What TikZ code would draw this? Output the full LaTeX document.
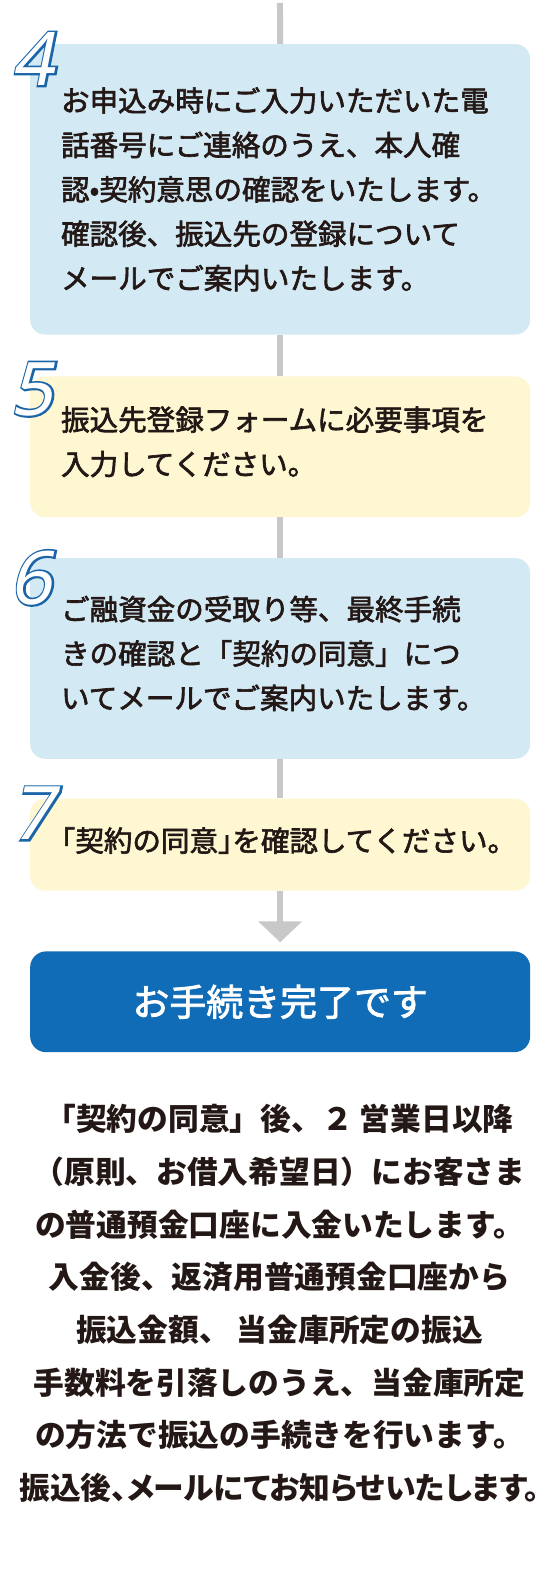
\documentclass[tikz,border=0pt]{standalone}
\usepackage{fontspec}
\setmainfont{Noto Sans CJK JP}
\newfontfamily\medfont[FakeBold=2.2]{Noto Sans CJK JP}
\newfontfamily\numfont[FakeSlant=0.2]{Noto Sans}
\newfontfamily\numedge[FakeSlant=0.2,FakeBold=5]{Noto Sans}
\usetikzlibrary{arrows.meta}
\definecolor{stepblue}{RGB}{211,234,245}
\definecolor{stepyellow}{RGB}{255,246,210}
\definecolor{flowgray}{RGB}{200,200,200}
\definecolor{numblue}{RGB}{26,100,168}
\definecolor{doneblue}{RGB}{16,108,182}
\definecolor{ink}{RGB}{35,24,21}
\newcommand\stepno[1]{\rlap{\color{numblue}\numedge #1}{\color{white}\numfont #1}}
\begin{document}
\begin{tikzpicture}[x=1pt, y=-1pt,
  stepbox/.style={anchor=north west, rounded corners=15pt, minimum width=501pt,
    inner xsep=31pt, inner ysep=0pt, text width=439pt, align=left, text=ink,
    font=\medfont\fontsize{28.6}{44.5}\selectfont},
  stepnum/.style={inner sep=0pt, font=\fontsize{74}{74}\selectfont},
  flow/.style={draw=flowgray, line width=6pt}]
\fill[white] (0,0) rectangle (560,1576);
\node[stepbox, fill=stepblue, minimum height=291pt] (s4) at (30,41)
  {お申込み時にご入力いただいた電\\話番号にご連絡のうえ、本人確\\認•契約意思の確認をいたします。\\確認後、振込先の登録について\\メールでご案内いたします。};
\node[stepbox, fill=stepyellow, minimum height=141pt] (s5) at (30,374)
  {振込先登録フォームに必要事項を\\入力してください。\par\vspace*{10pt}};
\node[stepbox, fill=stepblue, minimum height=201pt] (s6) at (30,556)
  {ご融資金の受取り等、最終手続\\きの確認と「契約の同意」につ\\いてメールでご案内いたします。\par\vspace*{10pt}};
\node[stepbox, fill=stepyellow, minimum height=92pt] (s7) at (30,797)
  {\kern-.5em「契約の同意」\kern-.5em を確認してください。\par\vspace*{8pt}};
\node[stepnum] (n4) at (33,56) {\stepno{4}};
\node[stepnum] (n5) at (32,387) {\stepno{5}};
\node[stepnum] (n6) at (31,576) {\stepno{6}};
\node[stepnum] (n7) at (33,812) {\stepno{7}};
\node[anchor=north west, fill=doneblue, rounded corners=16pt, minimum width=501pt,
  minimum height=101pt, text=white, font=\medfont\fontsize{37}{37}\selectfont] (done) at (30,950)
  {お手続き完了です};
\coordinate (top) at (280.5,0);
\draw[flow] (top) -- (s4.north);
\draw[flow] (s4.south) -- (s5.north);
\draw[flow] (s5.south) -- (s6.north);
\draw[flow] (s6.south) -- (s7.north);
\draw[flow, -{Triangle[width=43pt,length=21pt]}] (s7.south) -- ([yshift=9pt]done.north);
\node[align=center, inner sep=0pt, text=ink, font=\fontsize{30.8}{52.8}\selectfont\bfseries] (note) at (280,1303)
  {「契約の同意」後、２ 営業日以降\\（原則、お借入希望日）にお客さま\\の普通預金口座に入金いたします。\\入金後、返済用普通預金口座から\\振込金額、\ 当金庫所定の振込\\手数料を引落しのうえ、当金庫所定\\の方法で振込の手続きを行います。\\{\addfontfeature{RawFeature=+palt}振込後、メールにてお知らせいたします。}};
\end{tikzpicture}
\end{document}
